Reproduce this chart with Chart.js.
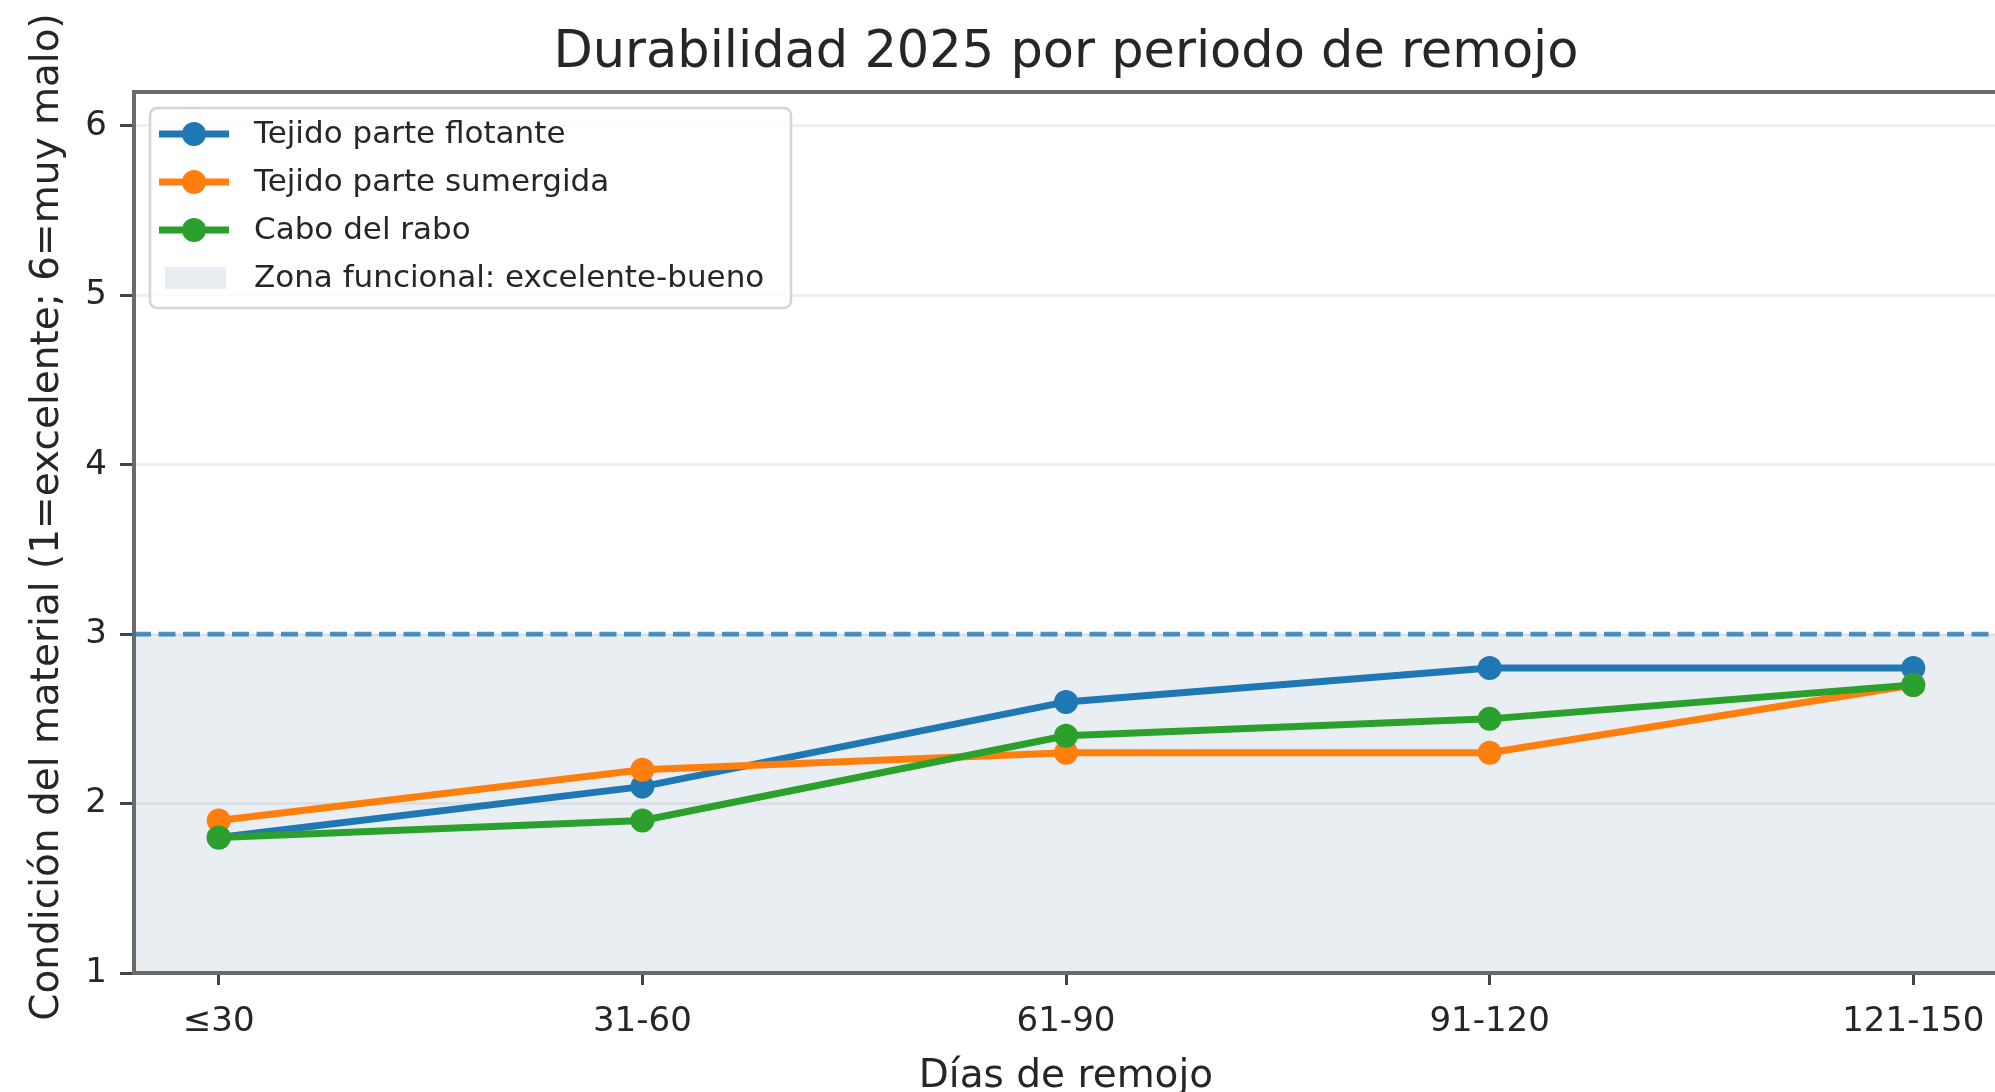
<!DOCTYPE html>
<html>
<head>
<meta charset="utf-8">
<script src="https://cdn.jsdelivr.net/npm/chart.js@4.4.1/dist/chart.umd.min.js"></script>
<style>
  html, body { margin: 0; padding: 0; background: #fff; overflow: hidden; }
  #wrap { width: 2010px; height: 1092px; }
</style>
</head>
<body>
<div id="wrap"><canvas id="chart" width="2010" height="1092"></canvas></div>
<script>
// soaking period buckets and the three condition series (1 = excellent, 6 = very bad)
const categories = ['≤30', '31-60', '61-90', '91-120', '121-150'];
const floatingFabric = [1.8, 2.1, 2.6, 2.8, 2.8];
const submergedFabric = [1.9, 2.2, 2.3, 2.3, 2.7];
const tailRope = [1.8, 1.9, 2.4, 2.5, 2.7];
const yTicks = [1, 2, 3, 4, 5, 6];
const functionalZone = [1, 3];

const FONT = 'DejaVu Sans';
const TEXT = '#262626';
const SPINE = '#6a6a6a';
const BAND = '#e8eef2';
const GRID = 'rgba(0,0,0,0.06)';

Chart.defaults.font.family = FONT;
Chart.defaults.color = TEXT;

const toPoints = vals => vals.map((v, i) => ({ x: i, y: v }));

function series(label, color, values, order) {
  return {
    label,
    data: toPoints(values),
    borderColor: color,
    backgroundColor: color,
    borderWidth: 7,
    pointRadius: 12,
    pointHoverRadius: 12,
    pointBorderWidth: 0,
    pointBackgroundColor: color,
    tension: 0,
    order,
  };
}

function drawLegend(chart) {
  const ctx = chart.ctx;
  const x0 = 150, y0 = 108, w = 641, h = 200;
  ctx.save();
  ctx.beginPath();
  ctx.roundRect(x0, y0, w, h, 7);
  ctx.fillStyle = 'rgba(255,255,255,0.8)';
  ctx.fill();
  ctx.lineWidth = 2.5;
  ctx.strokeStyle = '#d4d4d4';
  ctx.stroke();

  const rowY = i => 134 + i * 48;
  ctx.font = '31px "' + FONT + '"';
  ctx.textBaseline = 'middle';
  ctx.textAlign = 'left';

  chart.data.datasets.forEach((ds, i) => {
    const y = rowY(i);
    ctx.strokeStyle = ds.borderColor;
    ctx.lineWidth = 7;
    ctx.beginPath();
    ctx.moveTo(159, y);
    ctx.lineTo(229, y);
    ctx.stroke();
    ctx.fillStyle = ds.borderColor;
    ctx.beginPath();
    ctx.arc(194, y, 12, 0, Math.PI * 2);
    ctx.fill();
    ctx.fillStyle = TEXT;
    ctx.fillText(ds.label, 254, y + 1);
  });

  const yb = rowY(3);
  ctx.fillStyle = BAND;
  ctx.fillRect(165, yb - 11, 61, 22);
  ctx.fillStyle = TEXT;
  ctx.fillText('Zona funcional: excelente-bueno', 254, yb + 1);
  ctx.restore();
}

const decorations = {
  id: 'decorations',
  beforeDraw(chart) {
    const { ctx, chartArea: a, scales: { y } } = chart;
    ctx.save();
    ctx.fillStyle = '#fff';
    ctx.fillRect(0, 0, chart.width, chart.height);
    const top = y.getPixelForValue(functionalZone[1]);
    const bottom = y.getPixelForValue(functionalZone[0]);
    ctx.fillStyle = BAND;
    ctx.fillRect(a.left, top, a.right - a.left, bottom - top);
    ctx.restore();
  },
  beforeDatasetsDraw(chart) {
    const { ctx, chartArea: a, scales: { y } } = chart;
    const yy = y.getPixelForValue(functionalZone[1]);
    ctx.save();
    ctx.strokeStyle = 'rgba(31,119,180,0.8)';
    ctx.lineWidth = 4.7;
    ctx.setLineDash([17, 7.5]);
    ctx.beginPath();
    ctx.moveTo(a.left, yy);
    ctx.lineTo(a.right, yy);
    ctx.stroke();
    ctx.restore();
  },
  afterDraw(chart) {
    const { ctx, chartArea: a } = chart;
    ctx.save();
    // top spine
    ctx.strokeStyle = SPINE;
    ctx.lineWidth = 4;
    ctx.beginPath();
    ctx.moveTo(a.left - 2, a.top);
    ctx.lineTo(a.right, a.top);
    ctx.stroke();
    // title, centred over the axes
    ctx.fillStyle = TEXT;
    ctx.font = '51px "' + FONT + '"';
    ctx.textAlign = 'center';
    ctx.textBaseline = 'middle';
    ctx.fillText('Durabilidad 2025 por periodo de remojo', (a.left + a.right) / 2, 54);
    // y axis label, rotated
    ctx.translate(48, 517);
    ctx.rotate(-Math.PI / 2);
    ctx.font = '39px "' + FONT + '"';
    ctx.fillText('Condición del material (1=excelente; 6=muy malo)', 0, 0);
    ctx.restore();
    drawLegend(chart);
  },
};

new Chart(document.getElementById('chart'), {
  type: 'line',
  data: {
    datasets: [
      series('Tejido parte flotante', '#1f77b4', floatingFabric, 3),
      series('Tejido parte sumergida', '#ff7f0e', submergedFabric, 2),
      series('Cabo del rabo', '#2ca02c', tailRope, 1),
    ],
  },
  options: {
    responsive: false,
    animation: false,
    devicePixelRatio: 1,
    layout: { padding: { top: 92, right: 10, left: 0, bottom: 0 } },
    plugins: {
      legend: { display: false },
      tooltip: { enabled: false },
      title: { display: false },
    },
    scales: {
      x: {
        type: 'linear',
        min: -0.2,
        max: 4.2,
        afterBuildTicks: s => { s.ticks = categories.map((_, i) => ({ value: i })); },
        afterFit: s => { s.height = 119; },
        ticks: {
          callback: v => categories[v],
          font: { size: 34 },
          color: TEXT,
          padding: 17,
          maxRotation: 0,
          autoSkip: false,
        },
        grid: { drawOnChartArea: false, tickLength: 12, tickWidth: 3, tickColor: '#444' },
        border: { color: SPINE, width: 4 },
        title: {
          display: true,
          text: 'Días de remojo',
          font: { size: 39, lineHeight: 0.8 },
          padding: 0,
          color: TEXT,
        },
      },
      y: {
        min: 1,
        max: 6.2,
        afterBuildTicks: s => { s.ticks = yTicks.map(v => ({ value: v })); },
        afterFit: s => { s.width = 134; },
        ticks: { font: { size: 34 }, color: TEXT, padding: 13 },
        grid: { color: GRID, lineWidth: 3, tickLength: 14, tickWidth: 3, tickColor: '#444' },
        border: { color: SPINE, width: 4 },
        title: { display: false },
      },
    },
  },
  plugins: [decorations],
});
</script>
</body>
</html>
